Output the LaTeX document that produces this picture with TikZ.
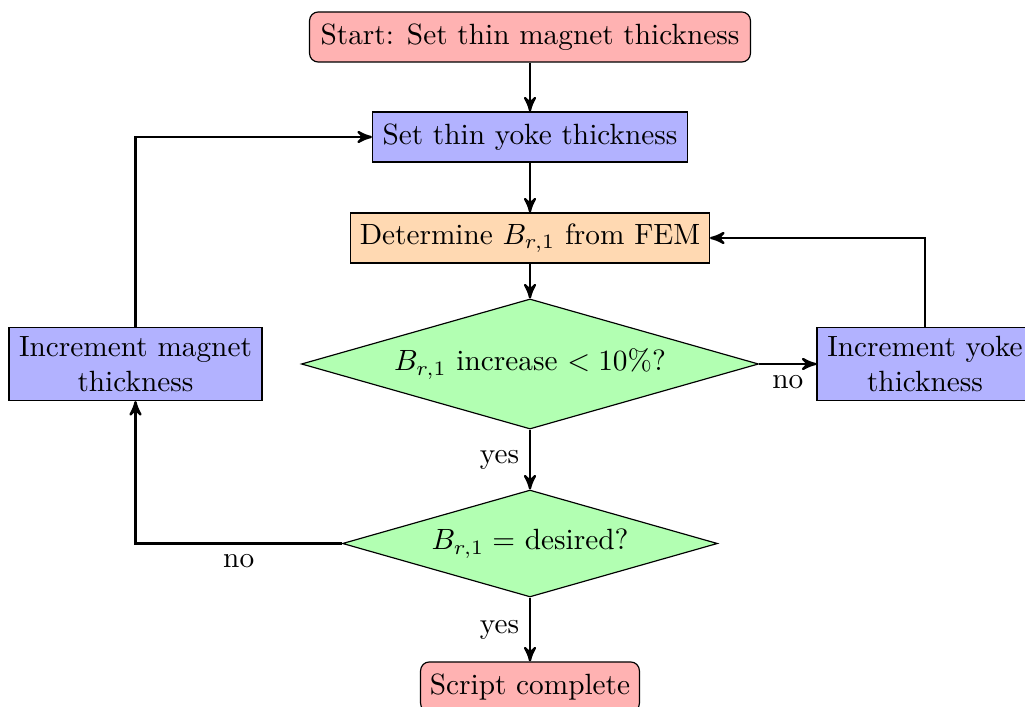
\documentclass[tikz,border=0pt]{standalone}
\usetikzlibrary{shapes.geometric,arrows}
\begin{document}
\begin{tikzpicture}[x=0.3413pt, y=-0.3413pt,
  startstop/.style={rectangle, rounded corners=3pt, draw=black, fill=red!30, inner sep=0pt, minimum height=17.1pt},
  process/.style={rectangle, draw=black, fill=blue!30, inner sep=0pt, minimum height=17.1pt, align=center},
  femstep/.style={rectangle, draw=black, fill=orange!30, inner sep=0pt, minimum height=17.1pt},
  decision/.style={diamond, aspect=3.5, draw=black, fill=green!30, inner sep=0pt},
  flow/.style={thick, ->, >=stealth'}]
  \useasboundingbox (0,0) rectangle (1025,707);

  % nodes
  \node[startstop, minimum width=150.5pt] (start) at (530,37) {Start: Set thin magnet thickness};
  \node[process, minimum width=107.5pt] (yoke) at (530,137) {Set thin yoke thickness};
  \node[femstep, minimum width=122.5pt] (fem) at (530,238) {Determine $B_{r,1}$ from FEM};
  \node[decision, minimum width=156pt, minimum height=44.4pt] (inc) at (530,364) {$B_{r,1}$ increase $<10\%$?};
  \node[process, minimum width=73.7pt, minimum height=24.9pt] (incyoke) at (925,364) {Increment yoke\\thickness};
  \node[process, minimum width=86.3pt, minimum height=24.9pt] (incmag) at (135.5,364) {Increment magnet\\thickness};
  \node[decision, minimum width=128pt, minimum height=36.5pt] (des) at (530,543.5) {$B_{r,1}=$ desired?};
  \node[startstop, minimum width=74.7pt] (done) at (530,687) {Script complete};

  % connectors
  \draw[flow] (start) -- (yoke);
  \draw[flow] (yoke) -- (fem);
  \draw[flow] (fem) -- (inc);
  \draw[flow] (inc) -- node[below] {no} (incyoke);
  \draw[flow] (incyoke) |- (fem);
  \draw[flow] (inc) -- node[left] {yes} (des);
  \draw[flow] (des) -- node[left] {yes} (done);
  \draw[flow] (des) -| node[pos=0.25, below] {no} (incmag);
  \draw[flow] (incmag) |- (yoke);
\end{tikzpicture}
\end{document}
